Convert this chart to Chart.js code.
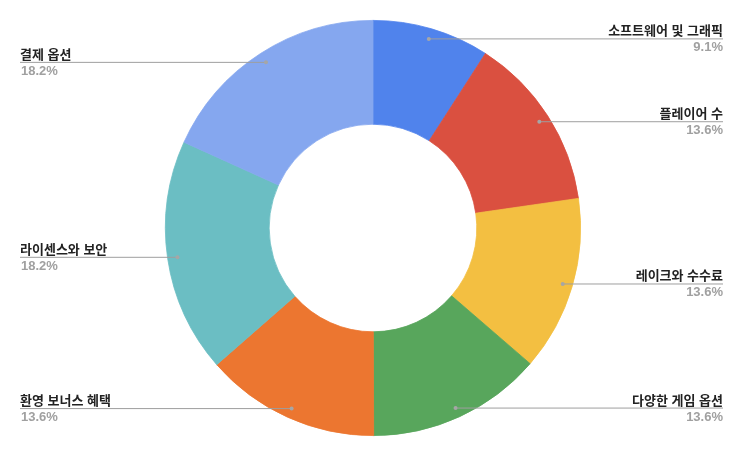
<!DOCTYPE html>
<html>
<head>
<meta charset="utf-8">
<script src="https://cdn.jsdelivr.net/npm/chart.js@4/dist/chart.umd.min.js"></script>
<style>
    html, body { margin: 0; padding: 0; background: #fff; }
    #wrap { width: 740px; height: 453px; }
</style>
</head>
<body>
<div id="wrap"><canvas id="donutChart" width="740" height="453"></canvas></div>
<script>
// 데이터 (시계 방향, 위쪽부터)
const categories = ['소프트웨어 및 그래픽', '플레이어 수', '레이크와 수수료', '다양한 게임 옵션', '환영 보너스 혜택', '라이센스와 보안', '결제 옵션'];
const shares = [9.1, 13.6, 13.6, 13.6, 13.6, 18.2, 18.2];
const sliceColors = ['#5083ec', '#da5040', '#f3bf41', '#58a65c', '#ec7630', '#6bbec3', '#85a7ef'];

const FONT = '"Liberation Sans", Arial, "Noto Sans CJK KR", sans-serif';

// 지시선과 라벨 그리기
const leaderLabels = {
    id: 'leaderLabels',
    afterDatasetsDraw(chart) {
        const ctx = chart.ctx;
        const meta = chart.getDatasetMeta(0);
        const total = shares.reduce((a, b) => a + b, 0);
        const leftX = 20, rightX = 723;
        ctx.save();
        meta.data.forEach((arc, i) => {
            const p = arc.getProps(['x', 'y', 'startAngle', 'endAngle', 'outerRadius'], true);
            const mid = (p.startAngle + p.endAngle) / 2;
            const r = p.outerRadius * 0.952;
            const dx = p.x + Math.cos(mid) * r;
            const dy = p.y + Math.sin(mid) * r;
            const right = Math.cos(mid) >= 0;
            const endX = right ? rightX : leftX;

            ctx.strokeStyle = '#9e9e9e';
            ctx.lineWidth = 1;
            ctx.beginPath();
            ctx.moveTo(dx, dy + 0.5);
            ctx.lineTo(endX, dy + 0.5);
            ctx.stroke();

            ctx.fillStyle = '#a6a6a6';
            ctx.beginPath();
            ctx.arc(dx, dy + 0.5, 2, 0, Math.PI * 2);
            ctx.fill();

            ctx.textAlign = right ? 'right' : 'left';
            ctx.textBaseline = 'alphabetic';
            ctx.font = 'bold 13px ' + FONT;
            ctx.fillStyle = '#222222';
            ctx.fillText(categories[i], endX, dy - 3);

            ctx.fillStyle = '#a0a0a0';
            ctx.fillText((shares[i] / total * 100).toFixed(1) + '%', endX + (right ? 0 : 1), dy + 13);
        });
        ctx.restore();
    }
};

const ctx = document.getElementById('donutChart').getContext('2d');
const donutChart = new Chart(ctx, {
    type: 'doughnut',
    data: {
        labels: categories,
        datasets: [{
            data: shares,
            backgroundColor: sliceColors,
            borderColor: sliceColors,
            borderWidth: 0.8
        }]
    },
    options: {
        responsive: false,
        animation: false,
        cutout: '50%',
        layout: { padding: { top: 20, bottom: 17, left: 165, right: 159 } },
        plugins: {
            legend: { display: false },
            tooltip: { enabled: false }
        }
    },
    plugins: [leaderLabels]
});
</script>
</body>
</html>
